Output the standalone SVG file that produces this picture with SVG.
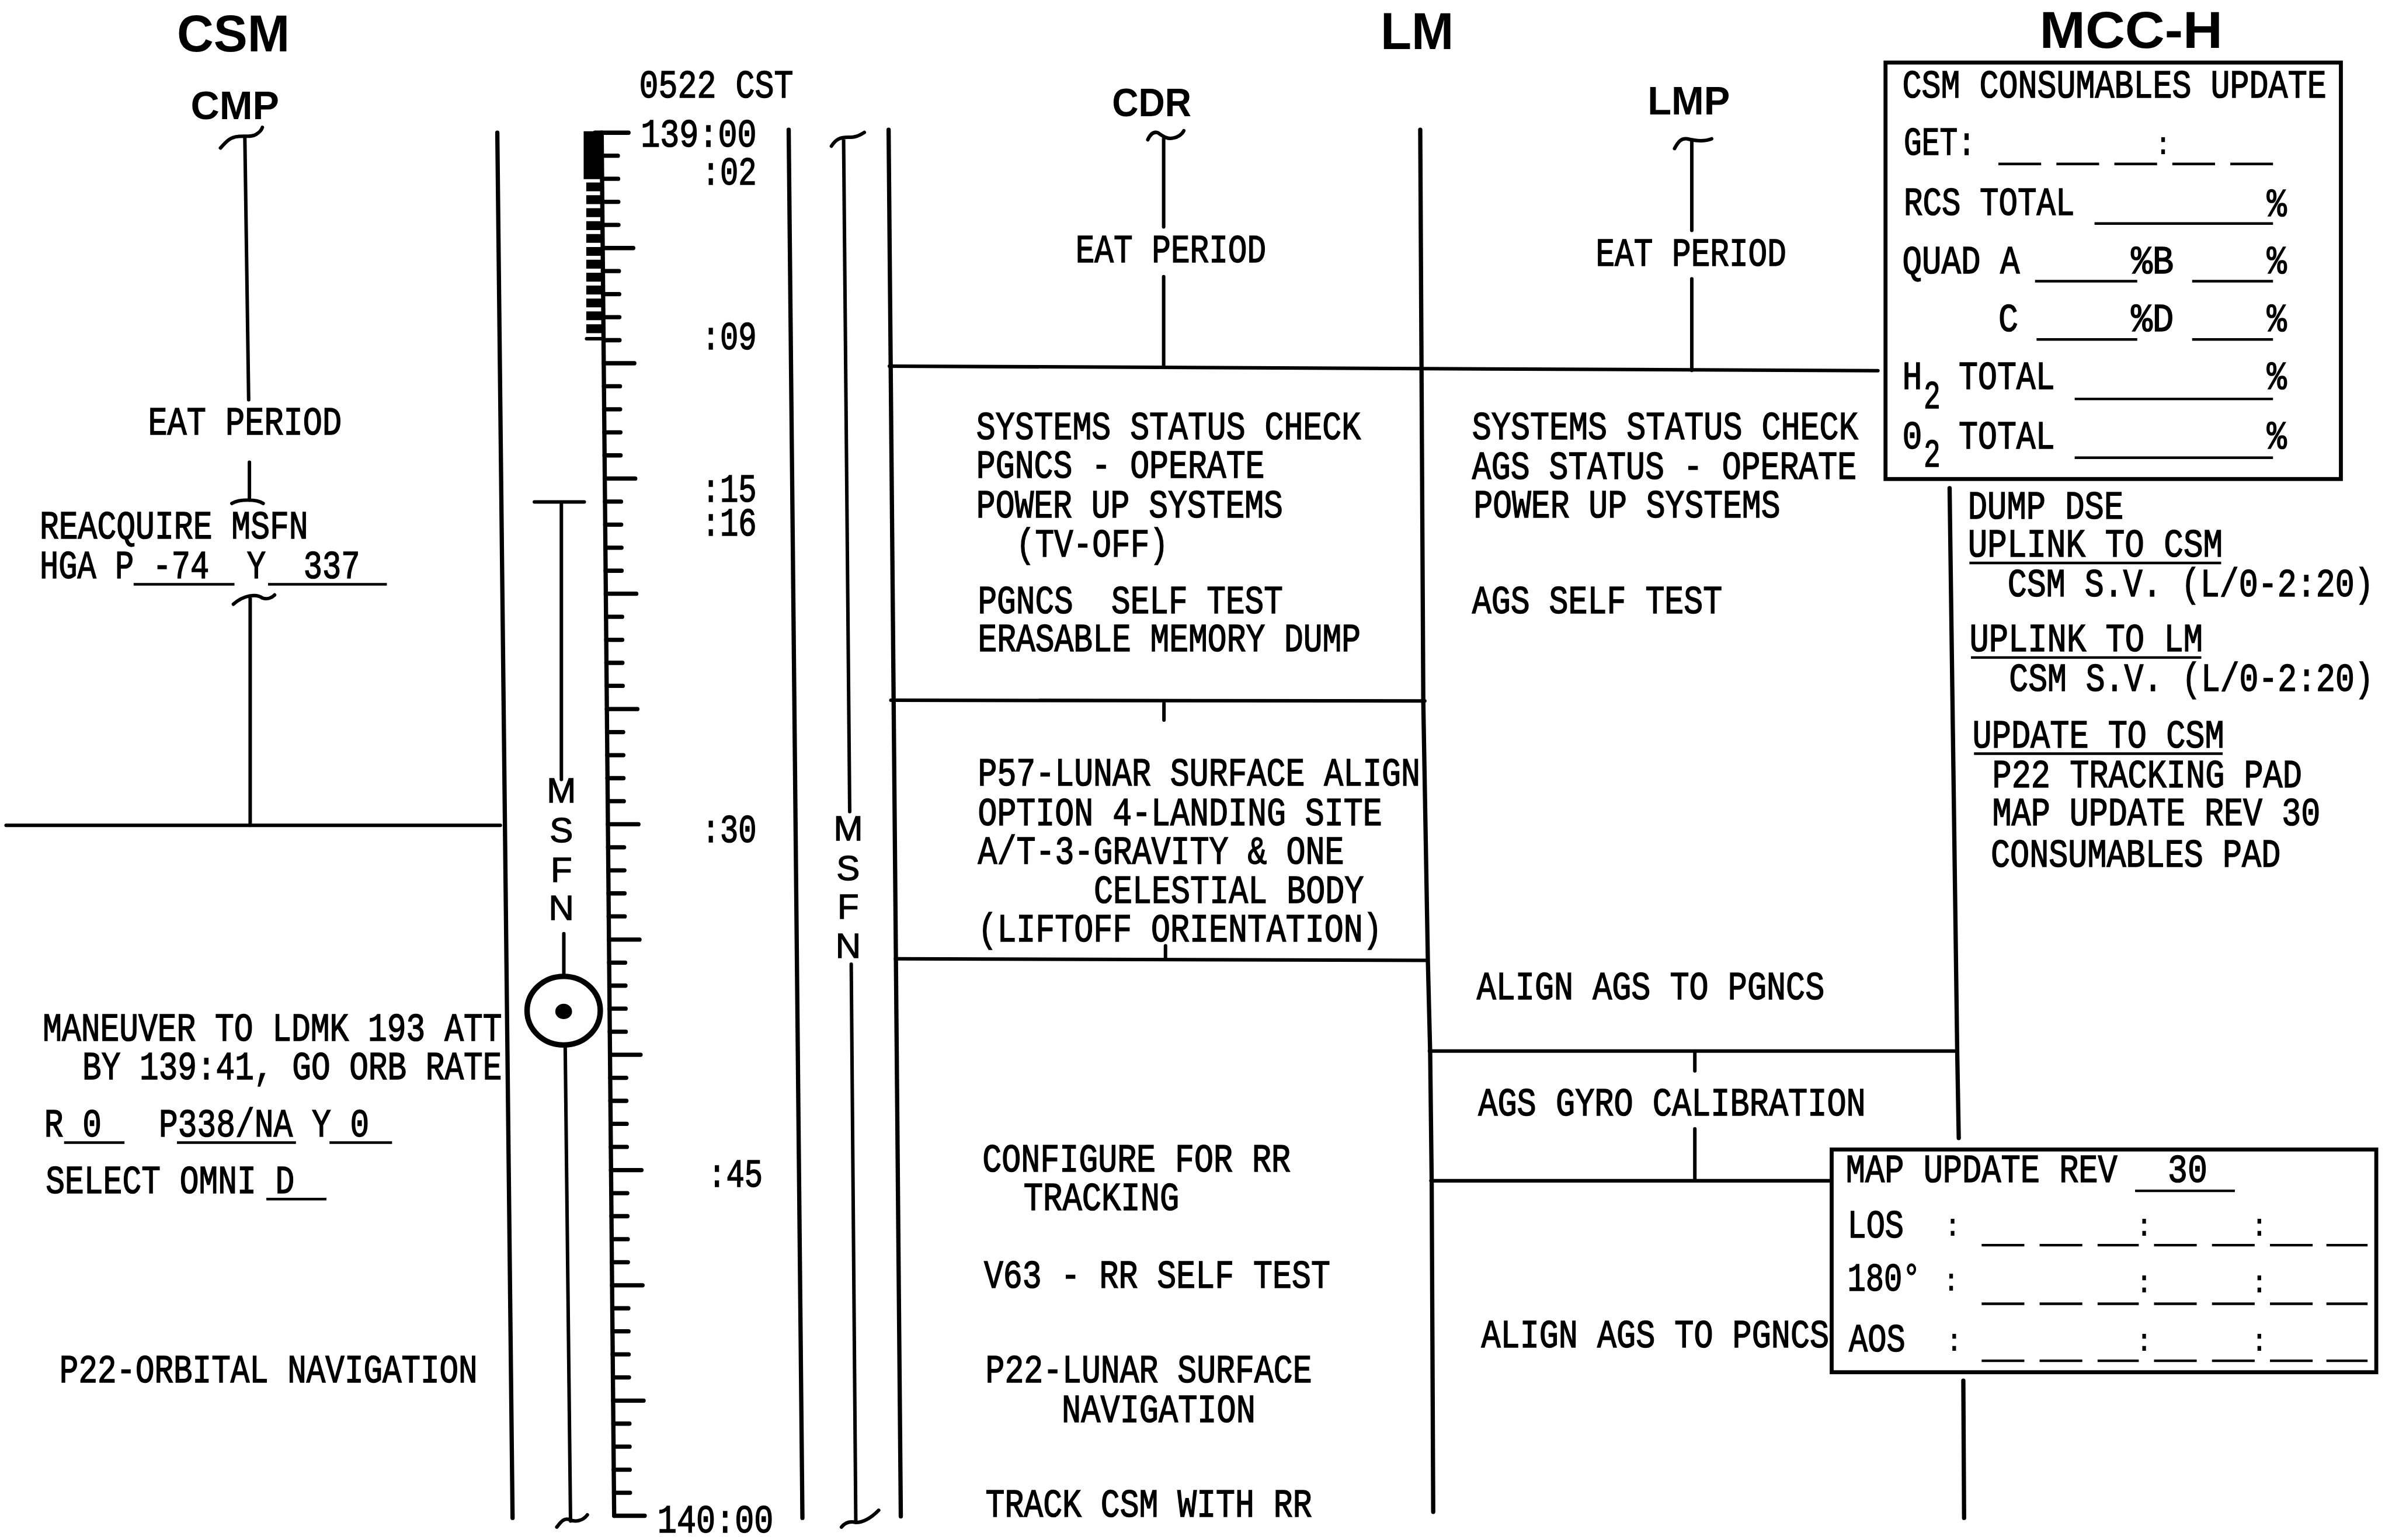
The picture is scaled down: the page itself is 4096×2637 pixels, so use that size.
<svg xmlns="http://www.w3.org/2000/svg" width="4096" height="2637" viewBox="0 0 4096 2637">
<style>
text{font-family:"Liberation Mono","DejaVu Sans Mono",monospace;font-size:20.8px;fill:#000;stroke:#000;stroke-width:.5px;white-space:pre}
.h{font-family:"Liberation Sans",Arial,sans-serif;font-weight:700;stroke:none;font-size:34px}
.s{font-family:"Liberation Sans",Arial,sans-serif;font-weight:700;stroke:none;font-size:26px}
.v{font-family:"Liberation Sans",Arial,sans-serif;font-weight:400;font-size:23px;text-anchor:middle}
.c{font-size:17px;font-weight:700;text-anchor:middle;stroke:none}
.l{fill:none;stroke:#000;stroke-width:2.8;stroke-linecap:round}
.m{fill:none;stroke:#000;stroke-width:2.3;stroke-linecap:round}
.u{fill:none;stroke:#000;stroke-width:1.7}
.b{fill:#fff;stroke:#000;stroke-width:2.6}
</style>
<rect width="4096" height="2637" fill="#fff"/>
<g transform="scale(2.61224)">
<g id="connectors">
<path class="l" d="M326 87L336 995M517 85L526 995M582.5 85L590.5 994M931 85L933 460L936 630L937.5 690L938.5 775L939.5 991M1278 320L1283 690L1284 746M1287 905L1287.5 995"/>
<path class="m" d="M4 541H328M583 240L1231 243M584 459L934 459.5M587 628.5L936 629.5M937 689H1283M938 774H1200"/>
<path class="m" d="M160.5 90L163 262M163.5 303V328M152 330C157 327 168 327 172.5 330M153 396C160 390 168 389 172 392C175 393 178 392 180 390M164 391V541M762.8 91V148.7M762.8 181.4V240M763 461V472M764 620V628M1109 93V151M1109 182.8V242.8M1111 689V702M1111 740V774"/>
<path class="m" d="M144.5 97C149 92 151 90 156 89.5C160 89 165 90 168 88C170.5 86.5 171.5 85 172 83.5M752.4 91.6C754 88 756 86 759 87C762 89 765 91.5 769 90.5C772 90 775 88 776 85.7M1097.7 97.4C1100 93 1102 90.5 1106 91C1110 92 1117 93 1122 91M545 95.8C548 91 551 90 556 90C561 90 563 89 566.6 86.8M350.3 329H383M368 329V511M369.6 612V639M370.5 686L374 997M365 1001C368 997 370 995 373 996C377 998 382 997 385 993M553 91L557 532M558 632L561 998M551.6 1001C554 998 557 997 561 998C567 998 572 994 576 990"/>
</g>
<g id="time-ruler">
<path class="l" d="M394.4 87L402.6 993.6"/>
<path fill="#000" d="M382.6 86H394.4V117.4H382.6ZM384.3 119.6H394.5V125.4H384.3ZM384.3 128H394.6V133.8H384.3ZM384.3 136.5H394.7V142.3H384.3ZM384.3 145H394.8V150.8H384.3ZM384.3 153.4H394.9V159.2H384.3ZM384.3 161.9H395V167.7H384.3ZM384.3 170.3H395V176.1H384.3ZM384.3 178.8H395.1V184.6H384.3ZM384.3 187.2H395.2V193H384.3ZM384.3 195.7H395.3V201.5H384.3ZM384.3 204.1H395.4V209.9H384.3ZM384.3 212.6H395.5V218.4H384.3Z"/>
<path class="m" d="M384.5 222H395"/>
<path class="l" stroke-linecap="butt" d="M390 87h22M395.1 162.6h20M395.8 238.1h20M396.4 313.7h20M397.1 389.2h20M397.8 464.8h20M398.5 540.3h20M399.2 615.9h20M399.9 691.4h20M400.5 767h20M401.2 842.5h20M401.9 918.1h20M402.6 993.6h20"/>
<path class="l" stroke-linecap="butt" d="M394.5 102.1h10.5M394.7 117.2h10.5M394.8 132.3h10.5M394.9 147.4h10.5M395.2 177.7h10.5M395.4 192.8h10.5M395.5 207.9h10.5M395.6 223h10.5M395.9 253.2h10.5M396 268.3h10.5M396.2 283.4h10.5M396.3 298.5h10.5M396.6 328.8h10.5M396.7 343.9h10.5M396.9 359h10.5M397 374.1h10.5M397.3 404.3h10.5M397.4 419.4h10.5M397.5 434.5h10.5M397.7 449.6h10.5M398 479.9h10.5M398.1 495h10.5M398.2 510.1h10.5M398.4 525.2h10.5M398.6 555.4h10.5M398.8 570.5h10.5M398.9 585.6h10.5M399 600.7h10.5M399.3 631h10.5M399.5 646.1h10.5M399.6 661.2h10.5M399.7 676.3h10.5M400 706.5h10.5M400.1 721.6h10.5M400.3 736.7h10.5M400.4 751.8h10.5M400.7 782.1h10.5M400.8 797.2h10.5M401 812.3h10.5M401.1 827.4h10.5M401.4 857.6h10.5M401.5 872.7h10.5M401.6 887.8h10.5M401.8 902.9h10.5M402.1 933.2h10.5M402.2 948.3h10.5M402.3 963.4h10.5M402.5 978.5h10.5"/>
<g transform="scale(1 1.25)">
<text x="419" y="51.2" textLength="101" lengthAdjust="spacingAndGlyphs">0522 CST</text>
<text x="420" y="76.8" textLength="76" lengthAdjust="spacingAndGlyphs">139:00</text>
<text x="460" y="96.8" textLength="36" lengthAdjust="spacingAndGlyphs">:02</text>
<text x="460" y="183.2" textLength="36" lengthAdjust="spacingAndGlyphs">:09</text>
<text x="460" y="263.2" textLength="36" lengthAdjust="spacingAndGlyphs">:15</text>
<text x="460" y="280.8" textLength="36" lengthAdjust="spacingAndGlyphs">:16</text>
<text x="460" y="441.6" textLength="36" lengthAdjust="spacingAndGlyphs">:30</text>
<text x="464" y="622.4" textLength="36" lengthAdjust="spacingAndGlyphs">:45</text>
<text x="431" y="803.5" textLength="76" lengthAdjust="spacingAndGlyphs">140:00</text>
</g>
</g>
<g id="msfn-csm">
<text class="v" x="368" y="526">M</text><text class="v" x="368" y="552">S</text><text class="v" x="368" y="578">F</text><text class="v" x="368" y="603">N</text>
<ellipse cx="369.5" cy="662.5" rx="24" ry="22.5" fill="none" stroke="#000" stroke-width="3.6"/>
<ellipse cx="369.5" cy="663" rx="5.5" ry="5" fill="#000"/>
</g>
<g id="msfn-lm">
<text class="v" x="556" y="551">M</text><text class="v" x="556" y="577">S</text><text class="v" x="556" y="602">F</text><text class="v" x="556" y="628">N</text>
</g>
<g id="csm-column">
<text class="h" x="116" y="33.5" textLength="74" lengthAdjust="spacingAndGlyphs">CSM</text>
<text class="s" x="125" y="78" textLength="58" lengthAdjust="spacingAndGlyphs">CMP</text>
<g transform="scale(1 1.25)">
<text x="97" y="228" textLength="127" lengthAdjust="spacingAndGlyphs">EAT PERIOD</text>
<text x="26" y="282.4" textLength="176" lengthAdjust="spacingAndGlyphs">REACQUIRE MSFN</text>
<text x="26" y="303.2" textLength="210" lengthAdjust="spacingAndGlyphs">HGA P -74  Y  337</text>
<text x="28" y="545.6" textLength="301" lengthAdjust="spacingAndGlyphs">MANEUVER TO LDMK 193 ATT</text>
<text x="54" y="566" textLength="275" lengthAdjust="spacingAndGlyphs">BY 139:41, GO ORB RATE</text>
<text x="29" y="596" textLength="213" lengthAdjust="spacingAndGlyphs">R 0   P338/NA Y 0</text>
<text x="30" y="625.6" textLength="163" lengthAdjust="spacingAndGlyphs">SELECT OMNI D</text>
<text x="39" y="724.8" textLength="274" lengthAdjust="spacingAndGlyphs">P22-ORBITAL NAVIGATION</text>
</g>
<path class="u" d="M87.6 383H153.7M175.7 383H253.6M42 749H81.6M116 749H194M216 749H257M174.6 786H214"/>
</g>
<g id="lm-cdr-column">
<text class="h" x="905" y="32" textLength="48" lengthAdjust="spacingAndGlyphs">LM</text>
<text class="s" x="729" y="76" textLength="52" lengthAdjust="spacingAndGlyphs">CDR</text>
<g transform="scale(1 1.25)">
<text x="705" y="137.6" textLength="125" lengthAdjust="spacingAndGlyphs">EAT PERIOD</text>
<text x="640" y="230.4" textLength="252" lengthAdjust="spacingAndGlyphs">SYSTEMS STATUS CHECK</text>
<text x="640" y="250.4" textLength="189" lengthAdjust="spacingAndGlyphs">PGNCS - OPERATE</text>
<text x="640" y="271.2" textLength="201" lengthAdjust="spacingAndGlyphs">POWER UP SYSTEMS</text>
<text x="666" y="292" textLength="100" lengthAdjust="spacingAndGlyphs">(TV-OFF)</text>
<text x="641" y="321.6" textLength="200" lengthAdjust="spacingAndGlyphs">PGNCS  SELF TEST</text>
<text x="641" y="341.6" textLength="251" lengthAdjust="spacingAndGlyphs">ERASABLE MEMORY DUMP</text>
<text x="641" y="412" textLength="290" lengthAdjust="spacingAndGlyphs">P57-LUNAR SURFACE ALIGN</text>
<text x="641" y="432.8" textLength="265" lengthAdjust="spacingAndGlyphs">OPTION 4-LANDING SITE</text>
<text x="641" y="452.8" textLength="240" lengthAdjust="spacingAndGlyphs">A/T-3-GRAVITY &amp; ONE</text>
<text x="717" y="473.6" textLength="177" lengthAdjust="spacingAndGlyphs">CELESTIAL BODY</text>
<text x="641" y="493.6" textLength="265" lengthAdjust="spacingAndGlyphs">(LIFTOFF ORIENTATION)</text>
<text x="644" y="614.4" textLength="202" lengthAdjust="spacingAndGlyphs">CONFIGURE FOR RR</text>
<text x="671" y="634.4" textLength="102" lengthAdjust="spacingAndGlyphs">TRACKING</text>
<text x="645" y="675.2" textLength="227" lengthAdjust="spacingAndGlyphs">V63 - RR SELF TEST</text>
<text x="646" y="724.8" textLength="214" lengthAdjust="spacingAndGlyphs">P22-LUNAR SURFACE</text>
<text x="696" y="745.6" textLength="127" lengthAdjust="spacingAndGlyphs">NAVIGATION</text>
<text x="646" y="795.2" textLength="214" lengthAdjust="spacingAndGlyphs">TRACK CSM WITH RR</text>
</g>
</g>
<g id="lm-lmp-column">
<text class="s" x="1080" y="75" textLength="54" lengthAdjust="spacingAndGlyphs">LMP</text>
<g transform="scale(1 1.25)">
<text x="1046" y="139.2" textLength="125" lengthAdjust="spacingAndGlyphs">EAT PERIOD</text>
<text x="965" y="230.4" textLength="253" lengthAdjust="spacingAndGlyphs">SYSTEMS STATUS CHECK</text>
<text x="965" y="251.2" textLength="252" lengthAdjust="spacingAndGlyphs">AGS STATUS - OPERATE</text>
<text x="966" y="271.2" textLength="201" lengthAdjust="spacingAndGlyphs">POWER UP SYSTEMS</text>
<text x="965" y="321.6" textLength="164" lengthAdjust="spacingAndGlyphs">AGS SELF TEST</text>
<text x="968" y="524" textLength="228" lengthAdjust="spacingAndGlyphs">ALIGN AGS TO PGNCS</text>
<text x="969" y="584.8" textLength="254" lengthAdjust="spacingAndGlyphs">AGS GYRO CALIBRATION</text>
<text x="971" y="706.4" textLength="228" lengthAdjust="spacingAndGlyphs">ALIGN AGS TO PGNCS</text>
</g>
</g>
<g id="mcc-column">
<text class="h" x="1337" y="31.5" textLength="120" lengthAdjust="spacingAndGlyphs">MCC-H</text>
<g transform="scale(1 1.25)">
<text x="1290" y="272" textLength="102" lengthAdjust="spacingAndGlyphs">DUMP DSE</text>
<text x="1290" y="292" textLength="167" lengthAdjust="spacingAndGlyphs">UPLINK TO CSM</text>
<text x="1316" y="312.8" textLength="240" lengthAdjust="spacingAndGlyphs">CSM S.V. (L/0-2:20)</text>
<text x="1291" y="341.6" textLength="153" lengthAdjust="spacingAndGlyphs">UPLINK TO LM</text>
<text x="1317" y="362.4" textLength="239" lengthAdjust="spacingAndGlyphs">CSM S.V. (L/0-2:20)</text>
<text x="1293" y="392" textLength="165" lengthAdjust="spacingAndGlyphs">UPDATE TO CSM</text>
<text x="1306" y="412.8" textLength="203" lengthAdjust="spacingAndGlyphs">P22 TRACKING PAD</text>
<text x="1306" y="432.8" textLength="215" lengthAdjust="spacingAndGlyphs">MAP UPDATE REV 30</text>
<text x="1305" y="454.4" textLength="190" lengthAdjust="spacingAndGlyphs">CONSUMABLES PAD</text>
</g>
<path class="u" d="M1291 369H1456M1292 431H1443M1294 494H1457"/>
</g>
<g id="csm-consumables-update">
<rect class="b" x="1236" y="41" width="298.5" height="273"/>
<g transform="scale(1 1.25)">
<text x="1247" y="51.2" textLength="278" lengthAdjust="spacingAndGlyphs">CSM CONSUMABLES UPDATE</text>
<text x="1248" y="81.2" textLength="47" lengthAdjust="spacingAndGlyphs">GET:</text>
<text class="c" x="1418" y="80.8">:</text>
<text x="1248" y="112.8" textLength="112" lengthAdjust="spacingAndGlyphs">RCS TOTAL</text>
<text x="1486" y="113.2" textLength="13" lengthAdjust="spacingAndGlyphs">%</text>
<text x="1247" y="143.2" textLength="77" lengthAdjust="spacingAndGlyphs">QUAD A</text>
<text x="1397" y="143.2" textLength="28" lengthAdjust="spacingAndGlyphs">%B</text>
<text x="1486" y="143.2" textLength="13" lengthAdjust="spacingAndGlyphs">%</text>
<text x="1310" y="173.6" textLength="13" lengthAdjust="spacingAndGlyphs">C</text>
<text x="1397" y="173.6" textLength="28" lengthAdjust="spacingAndGlyphs">%D</text>
<text x="1486" y="173.6" textLength="13" lengthAdjust="spacingAndGlyphs">%</text>
<text x="1247" y="204" textLength="13" lengthAdjust="spacingAndGlyphs">H</text>
<text x="1261" y="214" textLength="11" lengthAdjust="spacingAndGlyphs">2</text>
<text x="1284" y="204" textLength="63" lengthAdjust="spacingAndGlyphs">TOTAL</text>
<text x="1486" y="204" textLength="13" lengthAdjust="spacingAndGlyphs">%</text>
<text x="1247" y="235.2" textLength="13" lengthAdjust="spacingAndGlyphs">0</text>
<text x="1261" y="244.8" textLength="11" lengthAdjust="spacingAndGlyphs">2</text>
<text x="1284" y="235.2" textLength="63" lengthAdjust="spacingAndGlyphs">TOTAL</text>
<text x="1486" y="235.2" textLength="13" lengthAdjust="spacingAndGlyphs">%</text>
</g>
<path class="u" d="M1310 107.5H1338M1348 107.5H1376M1386 107.5H1414M1424 107.5H1452M1462 107.5H1490M1373 146.5H1490M1334 184.3H1401M1437 184.3H1490M1335 222.5H1401M1437 222.5H1490M1360 261.5H1490M1360 300H1490"/>
</g>
<g id="map-update-rev-30">
<rect class="b" x="1200.7" y="753.5" width="357" height="146"/>
<g transform="scale(1 1.25)">
<text x="1210" y="620" textLength="178" lengthAdjust="spacingAndGlyphs">MAP UPDATE REV</text>
<text x="1421" y="620" textLength="26" lengthAdjust="spacingAndGlyphs">30</text>
<text x="1211" y="648.8" textLength="37" lengthAdjust="spacingAndGlyphs">LOS</text>
<text x="1211" y="676.8" textLength="48" lengthAdjust="spacingAndGlyphs">180°</text>
<text x="1212" y="708.8" textLength="37" lengthAdjust="spacingAndGlyphs">AOS</text>
<text class="c" x="1280" y="648">:</text><text class="c" x="1405.5" y="648">:</text><text class="c" x="1481" y="648">:</text>
<text class="c" x="1279" y="676.8">:</text><text class="c" x="1405.5" y="677.6">:</text><text class="c" x="1481" y="677.6">:</text>
<text class="c" x="1281" y="708.4">:</text><text class="c" x="1405.5" y="708.4">:</text><text class="c" x="1481" y="708.4">:</text>
</g>
<path class="u" d="M1399.6 780.6H1465M1299 816.2H1327M1337 816.2H1365M1375 816.2H1402M1412 816.2H1440M1450 816.2H1478M1488 816.2H1516M1525 816.2H1552M1299 854.6H1327M1337 854.6H1365M1375 854.6H1402M1412 854.6H1440M1450 854.6H1478M1488 854.6H1516M1525 854.6H1552M1299 892H1327M1337 892H1365M1375 892H1402M1412 892H1440M1450 892H1478M1488 892H1516M1525 892H1552"/>
</g>
</g>
</svg>
